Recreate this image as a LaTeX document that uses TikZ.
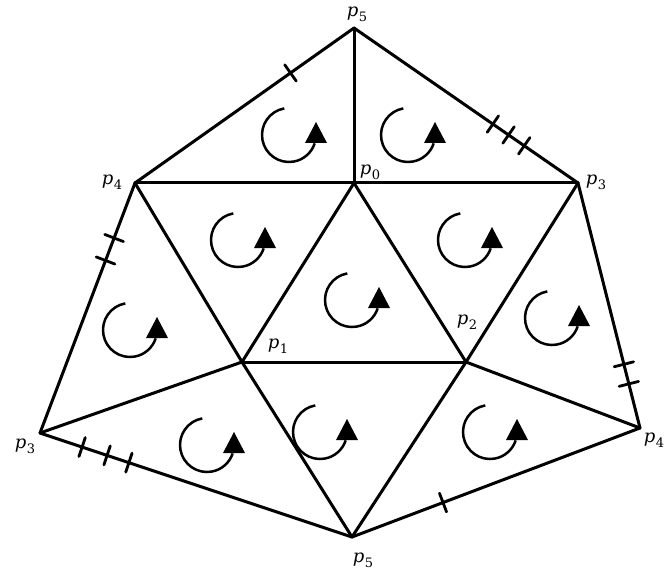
\documentclass[tikz,border=0pt]{standalone}
\usepackage{fontspec}
\newfontfamily\labfont{DejaVu Serif}
\newcommand{\plab}[1]{{\labfont\itshape p}\kern0.5pt\raisebox{-5pt}{\labfont\fontsize{13}{13}\selectfont #1}}
\usetikzlibrary{decorations.markings}
\begin{document}
\begin{tikzpicture}[x=1pt,y=1pt,
  edge/.style={line width=3pt,line cap=round,line join=round},
  hatch/.style={postaction={decorate,decoration={markings,
     mark=at position #1 with {\draw[line width=2.8pt] (0,-10pt)--(0,10pt);}}}},
  lab/.style={inner sep=0pt,font=\fontsize{18}{18}\selectfont},
  rot/.pic={\draw[line width=2.5pt] (100:27pt) arc[start angle=100,end angle=342,radius=27pt];
            \fill (27pt,13pt) -- (16pt,-8pt) -- (38pt,-8pt) -- cycle;}]
\useasboundingbox (0,0) rectangle (668,579);
% vertices
\coordinate (p5t) at (354,551);
\coordinate (p4l) at (135,396);
\coordinate (p0) at (354,396);
\coordinate (p3r) at (578,396);
\coordinate (p1) at (242,217);
\coordinate (p2) at (466,217);
\coordinate (p3b) at (40,146);
\coordinate (p4b) at (640,151);
\coordinate (p5b) at (352,42);
% edges
\draw[edge,hatch=0.29] (p5t) -- (p4l);
\draw[edge,hatch=0.62,hatch=0.69,hatch=0.76] (p5t) -- (p3r);
\draw[edge] (p5t) -- (p0);
\draw[edge] (p4l) -- (p0);
\draw[edge] (p0) -- (p3r);
\draw[edge] (p4l) -- (p1);
\draw[edge] (p0) -- (p1);
\draw[edge] (p0) -- (p2);
\draw[edge] (p3r) -- (p2);
\draw[edge] (p1) -- (p2);
\draw[edge,hatch=0.22,hatch=0.31] (p4l) -- (p3b);
\draw[edge,hatch=0.74,hatch=0.82] (p3r) -- (p4b);
\draw[edge] (p3b) -- (p1);
\draw[edge] (p1) -- (p5b);
\draw[edge] (p2) -- (p5b);
\draw[edge] (p2) -- (p4b);
\draw[edge,hatch=0.135,hatch=0.215,hatch=0.285] (p3b) -- (p5b);
\draw[edge,hatch=0.316] (p5b) -- (p4b);
% rotation arrows
\pic at (289,444) {rot};
\pic at (408,444) {rot};
\pic at (238,339) {rot};
\pic at (352,279) {rot};
\pic at (465,339) {rot};
\pic at (130,249) {rot};
\pic at (552,261) {rot};
\pic at (207,134) {rot};
\pic at (320,147) {rot};
\pic at (490,147) {rot};
% labels
\node[lab] (l5t) at (357,565) {\plab{5}};
\node[lab] (l4l) at (112,397) {\plab{4}};
\node[lab] (l0) at (370,407) {\plab{0}};
\node[lab] (l3r) at (596,397) {\plab{3}};
\node[lab] (l1) at (278,233) {\plab{1}};
\node[lab] (l2) at (467,257) {\plab{2}};
\node[lab] (l3b) at (25,133) {\plab{3}};
\node[lab] (l4b) at (654,139) {\plab{4}};
\node[lab] (l5b) at (363,19) {\plab{5}};
\end{tikzpicture}
\end{document}
